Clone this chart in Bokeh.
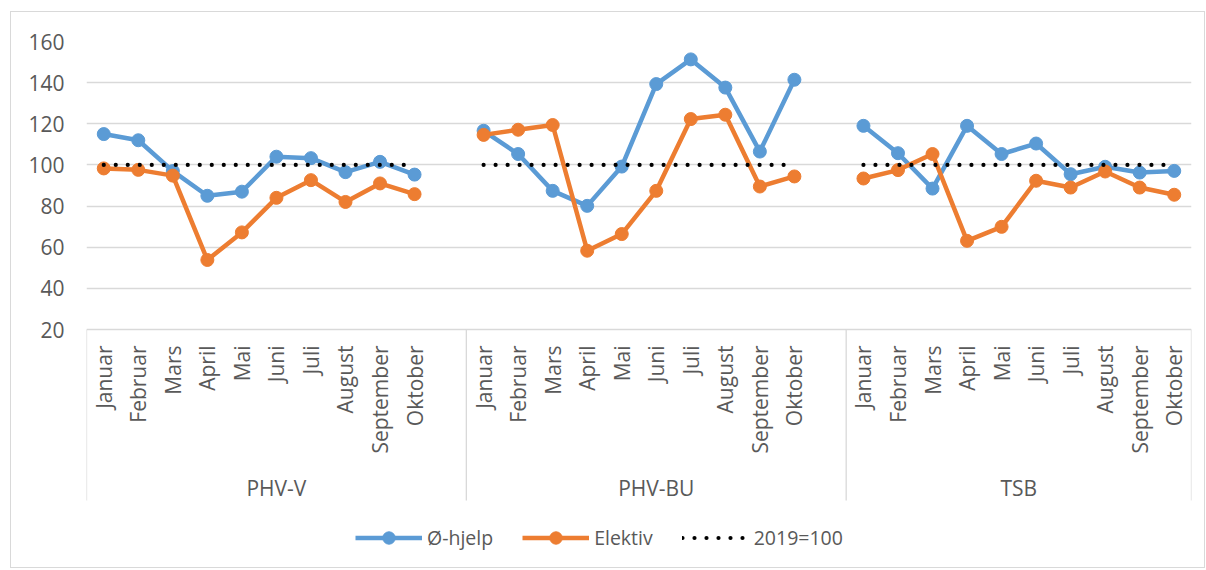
import math
import numpy as np
from bokeh.plotting import figure
from bokeh.models import (FactorRange, Range1d, ColumnDataSource, FixedTicker,
                          Legend, LegendItem)
from bokeh.embed import file_html
from bokeh.resources import INLINE

# ---------------- data ----------------
groups = ["PHV-V", "PHV-BU", "TSB"]
months = ["Januar", "Februar", "Mars", "April", "Mai", "Juni", "Juli",
          "August", "September", "Oktober"]

ohjelp_phv_v = [115.0, 112.0, 97.0, 85.0, 87.0, 104.0, 103.3, 96.5, 101.5, 95.3]
elektiv_phv_v = [98.3, 97.6, 94.8, 53.8, 67.2, 84.0, 92.6, 82.0, 91.0, 85.8]
ohjelp_phv_bu = [116.6, 105.3, 87.4, 80.1, 99.2, 139.3, 151.3, 137.6, 106.5, 141.4]
elektiv_phv_bu = [114.6, 117.1, 119.4, 58.3, 66.4, 87.4, 122.3, 124.4, 89.5, 94.4]
ohjelp_tsb = [119.0, 105.7, 88.5, 119.0, 105.3, 110.4, 95.5, 99.1, 96.3, 97.1]
elektiv_tsb = [93.4, 97.5, 105.3, 63.1, 69.9, 92.3, 89.0, 96.8, 89.0, 85.5]
baseline_value = 100
y_ticks = [20, 40, 60, 80, 100, 120, 140, 160]

# ---------------- styles ----------------
BLUE = "#5B9BD5"
ORANGE = "#ED7D31"
GRID = "#D9D9D9"
TEXT = "#595959"
FONT = "Open Sans"
FS = "21px"
LEG_FS = "19.5px"

# nested factors (Excel-like blank slot after each group except the last)
factors = []
group_sizes = []
for gi, g in enumerate(groups):
    n = 0
    for m in months:
        factors.append((g, m)); n += 1
    if gi < len(groups) - 1:
        factors.append((g, " ")); n += 1
    group_sizes.append(n)

def combine(per_group):
    ys = []
    for gi, vals in enumerate(per_group):
        ys += list(vals)
        if gi < len(per_group) - 1:
            ys.append(np.nan)
    return ys

oh = combine([ohjelp_phv_v, ohjelp_phv_bu, ohjelp_tsb])
el = combine([elektiv_phv_v, elektiv_phv_bu, elektiv_tsb])
ref = combine([[baseline_value] * len(months)] * len(groups))
src = ColumnDataSource(dict(x=factors, oh=oh, el=el, ref=ref))

# ---------------- geometry ----------------
y_axis_lo, y_top = y_ticks[0], y_ticks[-1]
VALUE_PX = 288                       # pixel height of the 20..160 value band
px_per_unit = VALUE_PX / (y_top - y_axis_lo)
FRAME_W = 1105
BELOW_PX = 233                       # category-label / legend band below the axis
FRAME_H = VALUE_PX + BELOW_PX
y_lo = y_axis_lo - BELOW_PX / px_per_unit

p = figure(x_range=FactorRange(factors=factors, factor_padding=0, group_padding=0,
                               subgroup_padding=0, range_padding=0),
           y_range=Range1d(y_lo, y_top),
           frame_width=FRAME_W, frame_height=FRAME_H,
           min_border_left=75, min_border_right=13, min_border_top=29,
           min_border_bottom=5,
           output_backend="svg", toolbar_location=None)
p.styles = {"margin-left": "10px", "margin-top": "11px",
            "border": "1px solid #D9D9D9"}
p.outline_line_color = None
p.background_fill_color = "white"
p.border_fill_color = "white"

# grid (only at the value ticks)
p.xgrid.visible = False
p.ygrid.grid_line_color = GRID
p.ygrid.grid_line_width = 1.3

# y axis
p.yaxis.ticker = FixedTicker(ticks=y_ticks)
p.yaxis.axis_line_color = None
p.yaxis.major_tick_line_color = None
p.yaxis.minor_tick_line_color = None
p.yaxis.major_tick_out = 0
p.yaxis.major_tick_in = 0
p.yaxis.major_label_standoff = 22
p.yaxis.major_label_text_font = FONT
p.yaxis.major_label_text_font_size = FS
p.yaxis.major_label_text_color = TEXT

# x axis drawn Excel-style (multi-level category labels with separators)
p.xaxis.visible = False
month_factors = [f for f in factors if f[1].strip()]
lab_src = ColumnDataSource(dict(x=month_factors, y=[y_axis_lo] * len(month_factors),
                                t=[f[1] for f in month_factors]))
p.text("x", "y", text="t", source=lab_src, angle=math.pi / 2, y_offset=16,
       text_align="right", text_baseline="middle",
       text_font={"value": FONT}, text_font_size=FS, text_color=TEXT)
grp_src = ColumnDataSource(dict(x=groups, y=[y_axis_lo] * len(groups), t=groups))
p.text("x", "y", text="t", source=grp_src, y_offset=158,
       text_align="center", text_baseline="middle",
       text_font={"value": FONT}, text_font_size=FS, text_color=TEXT)

SEP_PX = 171
bounds = [0]
for n in group_sizes:
    bounds.append(bounds[-1] + n)
sep_src = ColumnDataSource(dict(x=bounds, y0=[y_axis_lo] * len(bounds),
                                y1=[y_axis_lo - SEP_PX / px_per_unit] * len(bounds)))
p.segment(x0="x", y0="y0", x1="x", y1="y1", source=sep_src,
          line_color=GRID, line_width=1.3)

# series
l_oh = p.line("x", "oh", source=src, line_color=BLUE, line_width=4.5, line_join="round")
s_oh = p.scatter("x", "oh", source=src, size=13, fill_color=BLUE, line_color=BLUE)
l_el = p.line("x", "el", source=src, line_color=ORANGE, line_width=4.5, line_join="round")
s_el = p.scatter("x", "el", source=src, size=13, fill_color=ORANGE, line_color=ORANGE)
l_ref = p.line("x", "ref", source=src, line_color="black", line_width=4.2,
               line_dash="0 12", line_cap="round")

legend = Legend(items=[LegendItem(label="Ø-hjelp", renderers=[l_oh, s_oh]),
                       LegendItem(label="Elektiv", renderers=[l_el, s_el]),
                       LegendItem(label="2019=100", renderers=[l_ref])],
                orientation="horizontal", location=(269, 9),
                glyph_width=67, glyph_height=31, label_standoff=5, spacing=29,
                padding=0, margin=0, border_line_color=None,
                background_fill_alpha=0,
                label_text_font=FONT, label_text_font_size=LEG_FS,
                label_text_color=TEXT)
p.add_layout(legend)

open("out.html", "w").write(file_html(p, INLINE))
